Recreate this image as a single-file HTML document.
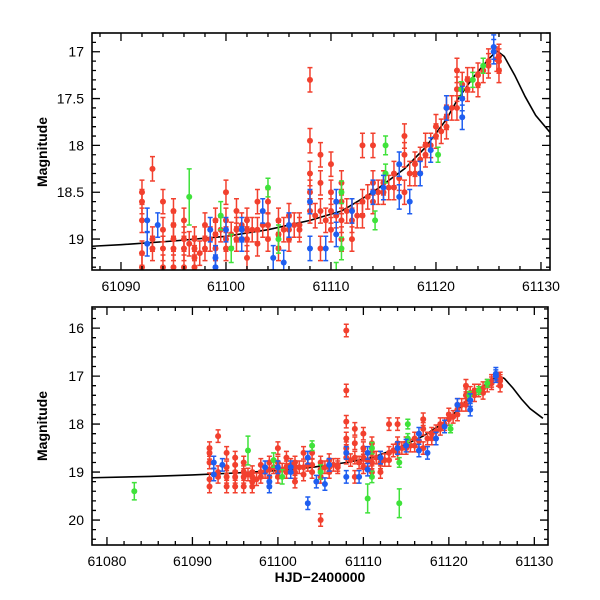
<!DOCTYPE html>
<html><head><meta charset="utf-8"><style>
body{margin:0;background:#fff}
svg{display:block}
text{font-family:"Liberation Sans",sans-serif;font-size:14px;fill:#000}
</style></head><body>
<svg id="c" width="600" height="600"></svg>
<script>
// data: days (HJD-2400000), magnitudes, errors
const redX=[61092,61092,61092,61092,61092,61093,61093,61093,61094,61094,61094,61094,61095,61095,61095,61095,61095,61096,61096,61096,61096,61097,61097,61097,61097,61098,61098,61098,61099,61099,61099,61100,61100,61100,61100,61101,61101,61101,61102,61102,61102,61102,61103,61103,61103,61104,61104,61104,61105,61105,61105,61105,61106,61106,61106,61107,61107,61108,61108,61108,61108,61108,61108,61109,61109,61109,61109,61110,61110,61110,61110,61111,61111,61111,61111,61112,61112,61112,61113,61113,61113,61114,61114,61114,61115,61115,61116,61116,61117,61117,61117,61118,61118,61119,61119,61120,61120,61121,61121,61121,61122,61122,61122,61123,61123,61124,61124,61125,61125,61126,61126,61126,
 61096.5,61097.5,61098.5,61099.5,61100.5,61101.5,61102.5,61103.5,61105.5,61106.5,61108.5,61109.5,61110.5,61111.5,61112.5,61113.5,61114.5,61115.5,61116.5,61117.5,61118.5,61119.5,61120.5,61121.5,61122.5,61123.5,61124.5,61125.8];
const redMag=[18.5,18.6,18.8,19.15,19.3,18.25,19.0,19.1,18.6,18.9,19.1,19.3,18.7,18.85,19.0,19.1,19.3,18.8,19.0,19.1,19.3,19.0,19.1,19.2,19.3,18.85,19.0,19.1,18.8,18.95,19.1,18.5,18.8,19.0,19.1,18.7,18.9,19.0,18.8,18.9,19.0,19.2,18.6,18.9,19.05,18.6,18.85,19.0,18.8,18.95,19.1,20.0,18.75,18.9,19.0,18.85,18.9,16.05,17.3,17.95,18.3,18.5,18.7,18.1,18.4,18.7,19.1,18.2,18.5,18.7,18.9,18.4,18.6,18.8,19.0,18.7,18.8,19.0,18.0,18.6,18.75,18.0,18.4,18.6,18.4,18.5,18.3,18.45,17.9,18.1,18.5,18.2,18.3,18.0,18.1,17.8,17.9,17.6,17.7,17.8,17.2,17.4,17.6,17.3,17.4,17.25,17.35,17.1,17.15,17.05,17.1,17.2,
 19.05,19.15,19.0,18.9,18.95,18.85,18.9,18.85,18.9,18.85,18.75,18.8,18.75,18.7,18.75,18.55,18.5,18.45,18.35,18.3,18.15,18.0,17.85,17.6,17.35,17.3,17.2,17.08];
const blueX=[61092.5,61092.5,61093.5,61098.5,61099,61099,61101.5,61101.5,61103.5,61103.5,61104.5,61105.5,61108,61108,61109.5,61110.5,61110.5,61114,61116.5,61116.5,61117.5,61118.5,61119.5,61121,61122.5,61122.5,61125.5,61125.5,61100,61106,61112,61115];
const blueMag=[18.8,19.05,18.85,18.9,19.2,19.3,18.9,19.0,19.65,18.7,19.2,19.25,19.1,18.6,19.1,18.6,18.95,18.5,18.55,18.2,18.6,18.3,18.05,17.6,17.7,17.5,16.95,17.0,18.9,18.85,18.7,18.45];
const greenX=[61083.2,61096.5,61099.5,61100.5,61104,61105,61110.5,61111,61111,61114.2,61114.2,61115.2,61115.2,61120.2,61122.4,61123.5,61124.5];
const greenMag=[19.4,18.55,18.75,19.1,18.45,19.0,19.55,18.5,19.1,19.65,18.8,18.0,18.3,18.1,17.4,17.3,17.15];
const greenErr=[0.18,0.3,0.15,0.15,0.1,0.15,0.3,0.12,0.12,0.3,0.1,0.1,0.1,0.08,0.08,0.08,0.08];
const modelX=[61078,61085,61090,61095,61100,61104,61108,61111,61114,61117,61119,61121,61122,61123.5,61125,61125.8,61126.5,61127.5,61128.5,61129.5,61131];
const modelMag=[19.12,19.09,19.06,19.02,18.97,18.9,18.8,18.7,18.5,18.25,18.02,17.72,17.52,17.28,17.08,16.99,17.05,17.25,17.48,17.68,17.88];

const NS='http://www.w3.org/2000/svg';
const svg=document.getElementById('c');
function el(tag,attrs,parent){const e=document.createElementNS(NS,tag);for(const k in attrs)e.setAttribute(k,attrs[k]);(parent||svg).appendChild(e);return e;}

const panels=[
 {name:'top',L:92,R:550,T:33,B:270,x0:61087.24,x1:61130.86,y0:16.8,y1:19.33,xMaj:10,xMin:2,yMaj:0.5,yMin:0.1,yTicks:[17,17.5,18,18.5,19],xTitle:false,yTitleY:152,err:0.13},
 {name:'bottom',L:92,R:548,T:307,B:545,x0:61078.25,x1:61131.6,y0:15.56,y1:20.52,xMaj:10,xMin:2,yMaj:1,yMin:0.2,yTicks:[16,17,18,19,20],xTitle:true,yTitleY:426,err:0.13}
];
const colors={red:'#f2402e',blue:'#1f5ef0',green:'#3fe23a'};

panels.forEach(p=>{
 const g=el('g',{});
 
 
 const sx=v=>p.L+(v-p.x0)/(p.x1-p.x0)*(p.R-p.L);
 const sy=v=>p.T+(v-p.y0)/(p.y1-p.y0)*(p.B-p.T);
 const cid='clip-'+p.name;
 const cp=el('clipPath',{id:cid},g);el('rect',{x:p.L,y:p.T,width:p.R-p.L,height:p.B-p.T},cp);
 const plot=el('g',{'clip-path':'url(#'+cid+')'},g);
 
 
 let d=modelX.map((x,i)=>(i?'L':'M')+sx(x).toFixed(1)+' '+sy(modelMag[i]).toFixed(1)).join(' ');
 const ml=el('path',{d:d,fill:'none',stroke:'#000','stroke-width':1.6},plot);
 
 
 function series(xs,ms,errs,col,nm){
  const sg=el('g',{},plot);
  
  
  xs.forEach((x,i)=>{
   const e=errs?errs[i]:p.err;
   const cx=sx(x),cy=sy(ms[i]),a=sy(ms[i]-e),b=sy(ms[i]+e);
   el('path',{d:`M${cx} ${a}V${b}M${cx-2.5} ${a}h5M${cx-2.5} ${b}h5`,stroke:col,'stroke-width':1.5,fill:'none'},sg);
   const c=el('circle',{cx:cx,cy:cy,r:3,fill:col},sg);
   
   
  });
 }
 series(redX,redMag,null,colors.red,'red');
 series(greenX,greenMag,greenErr,colors.green,'green');
 series(blueX,blueMag,null,colors.blue,'blue');
 const fr=el('rect',{x:p.L,y:p.T,width:p.R-p.L,height:p.B-p.T,fill:'none',stroke:'#000','stroke-width':1.6},g);
 
 
 let t='';
 for(let v=Math.ceil(p.x0/p.xMin)*p.xMin;v<=p.x1;v+=p.xMin){const X=sx(v);const L=(Math.round(v)%p.xMaj===0)?8:4;t+=`M${X} ${p.B}v${-L}M${X} ${p.T}v${L}`;}
 for(let v=Math.ceil(p.y0/p.yMin-1e-6)*p.yMin;v<=p.y1+1e-6;v+=p.yMin){const Y=sy(v);const maj=Math.abs(v/p.yMaj-Math.round(v/p.yMaj))<1e-3;const L=maj?8:4;t+=`M${p.L} ${Y}h${L}M${p.R} ${Y}h${-L}`;}
 const tk=el('path',{d:t,stroke:'#000','stroke-width':1.3,fill:'none'},g);
 
 
 for(let v=Math.ceil(p.x0/p.xMaj)*p.xMaj;v<=p.x1+1;v+=p.xMaj){
  const tx=el('text',{x:sx(v),y:p.B+21,'text-anchor':'middle'},g);tx.textContent=v;
  
  
 }
 p.yTicks.forEach(v=>{
  const ty=el('text',{x:p.L-8,y:sy(v)+5,'text-anchor':'end'},g);ty.textContent=v;
  
  
 });
 const yt=el('text',{x:0,y:0,'text-anchor':'middle',transform:`translate(47 ${p.yTitleY}) rotate(-90)`,'font-weight':'bold'},g);
 yt.textContent='Magnitude';
 
 
 if(p.xTitle){
  const xt=el('text',{x:320,y:582,'text-anchor':'middle','font-weight':'bold'},g);
  xt.textContent='HJD\u22122400000';
  
  
 }
});
</script>
</body></html>
